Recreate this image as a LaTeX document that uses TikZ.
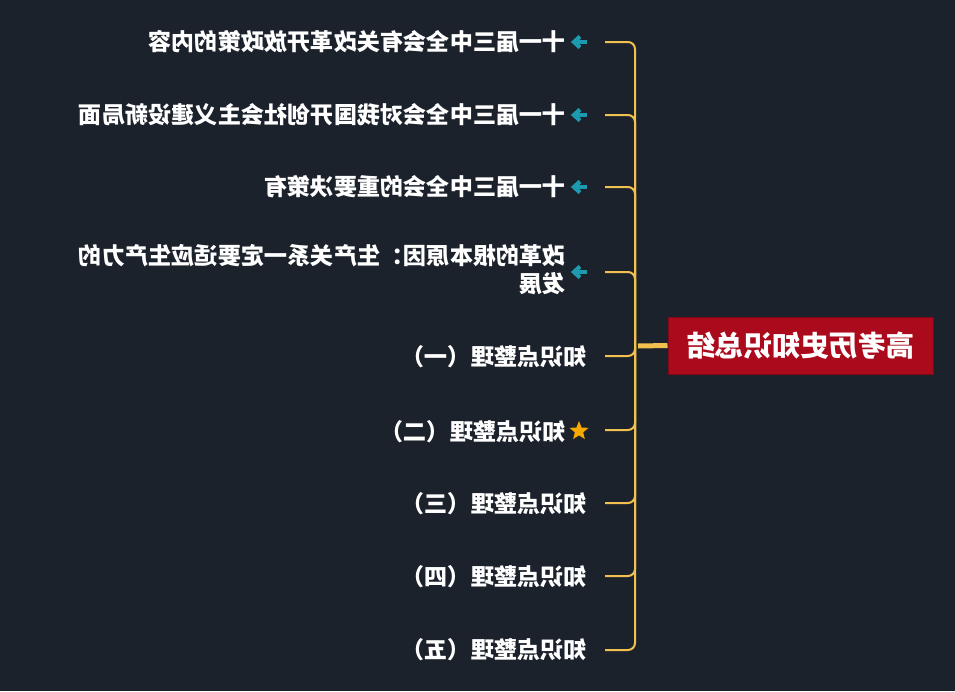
\documentclass[tikz,border=0pt]{standalone}
\usepackage{fontspec}
\usepackage{graphicx}
\setmainfont{Noto Sans CJK SC}
\usetikzlibrary{shapes.geometric,arrows.meta}
\definecolor{bg}{HTML}{1C222C}
\definecolor{gold}{HTML}{F2C04E}
\definecolor{rootred}{HTML}{AB0A1C}
\definecolor{tealc}{HTML}{1B9AB0}
\definecolor{staror}{HTML}{F5A800}
\begin{document}
\begin{tikzpicture}[x=1pt,y=-1pt,
  every node/.style={text=white,inner sep=0pt},
  item/.style={anchor=east,align=right,font=\bfseries\fontsize{23.2}{25}\selectfont},
  branch/.style={draw=gold,line width=2pt,rounded corners=7pt},
  arrowicon/.style={draw=tealc,line width=4.2pt,line join=miter},
  staricon/.style={star,star points=5,star point ratio=2.3,fill=staror,minimum size=20pt}]
\fill[bg] (0,0) rectangle (955,691);
\useasboundingbox (0,0) rectangle (955,691);
% root
\node[draw=rootred!75!black,fill=rootred,line width=1pt,minimum width=265pt,minimum height=57pt,
      font=\bfseries\fontsize{28.5}{30}\selectfont] (root) at (800.5,345.5) {\reflectbox{高考历史知识总结}};
\coordinate (hub) at (635,346);
% items
\node[item] (t1) at (566,42) {\reflectbox{十一届三中全会有关改革开放政策的内容}};
\node[item] (t2) at (566,115) {\reflectbox{十一届三中全会对我国开创社会主义建设新局面}};
\node[item] (t3) at (566,187) {\reflectbox{十一届三中全会的重要决策有}};
\node[item] (t4) at (566,272) {\reflectbox{\begin{tabular}{@{}l@{}}改革的根本原因：生产关系一定要适应生产力的\\发展\end{tabular}}};
\node[item] (t5) at (587,357) {\reflectbox{知识点整理（一）}};
\node[item] (t6) at (566,432) {\reflectbox{知识点整理（二）}};
\node[item] (t7) at (587,504) {\reflectbox{知识点整理（三）}};
\node[item] (t8) at (587,577) {\reflectbox{知识点整理（四）}};
\node[item] (t9) at (587,650) {\reflectbox{知识点整理（五）}};
% icons
\coordinate (a1) at (579,42);
\coordinate (a2) at (579,115);
\coordinate (a3) at (579,187);
\coordinate (a4) at (579,272);
\foreach \a in {a1,a2,a3,a4}{
  \draw[arrowicon] ([shift={(8pt,0pt)}]\a) -- ([shift={(-5pt,0pt)}]\a);
  \draw[arrowicon] ([shift={(1pt,-5.5pt)}]\a) -- ([shift={(-5pt,0pt)}]\a) -- ([shift={(1pt,5.5pt)}]\a);}
\node[staricon] (s6) at (579,431) {};
% branch ends
\coordinate (e1) at (605,42);
\coordinate (e2) at (605,115);
\coordinate (e3) at (605,187);
\coordinate (e4) at (605,272);
\coordinate (e5) at (605,356);
\coordinate (e6) at (605,430);
\coordinate (e7) at (605,503);
\coordinate (e8) at (605,576);
\coordinate (e9) at (605,650);
\foreach \e in {e1,e2,e3,e4,e5,e6,e7,e8,e9}{\draw[branch] (hub) |- (\e);}
\draw[gold,line width=5pt] (root.west) -- ([xshift=3pt]hub);
\end{tikzpicture}
\end{document}
